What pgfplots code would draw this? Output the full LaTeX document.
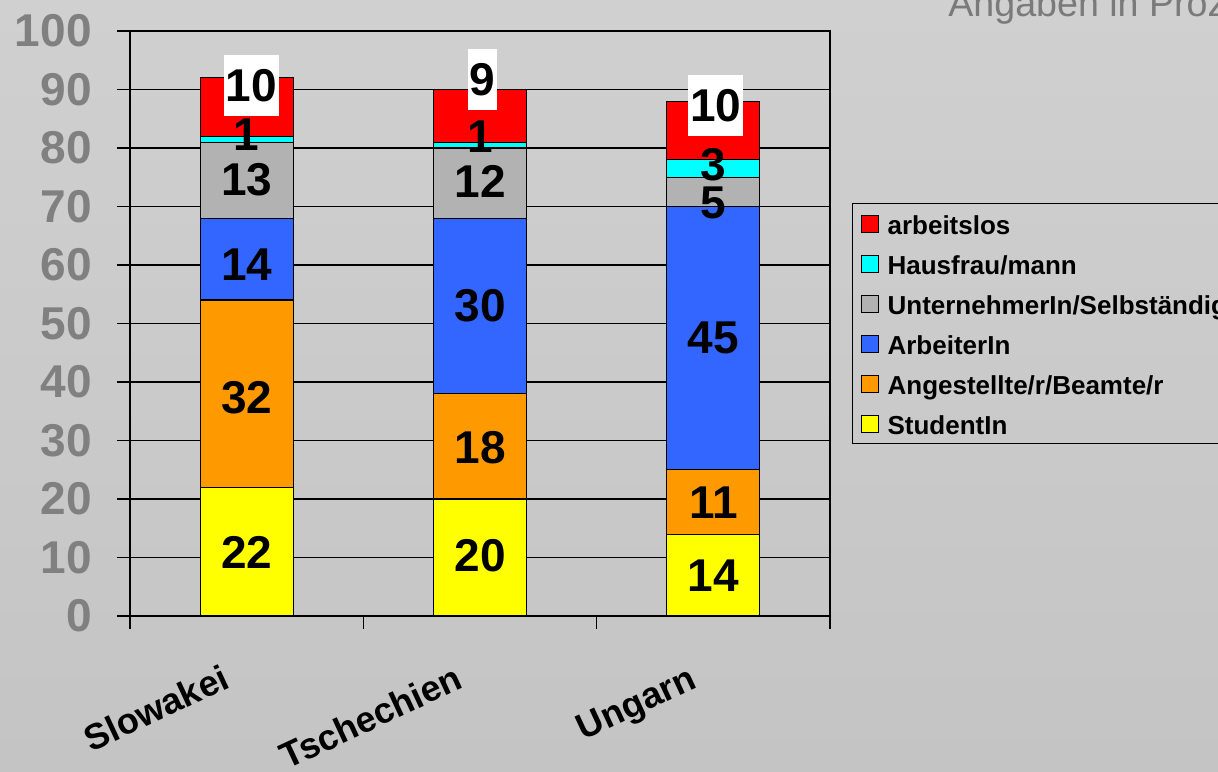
\documentclass[border=0pt]{standalone}
\usepackage{fontspec}
\setmainfont{Liberation Sans}
\usepackage{pgfplots}
\pgfplotsset{compat=1.18}
\definecolor{cRed}{HTML}{FF0000}
\definecolor{cCyan}{HTML}{00FFFF}
\definecolor{cGray}{HTML}{B2B2B2}
\definecolor{cBlue}{HTML}{3366FF}
\definecolor{cOrange}{HTML}{FF9900}
\definecolor{cYellow}{HTML}{FFFF00}
\definecolor{tickgray}{HTML}{808080}
\definecolor{titlegray}{HTML}{7A7A7A}
\definecolor{bgtop}{HTML}{D0D0D0}
\definecolor{bgmid}{HTML}{FAFAFA}
\definecolor{bgbot}{HTML}{C4C4C4}
\tikzset{
  lab/.style={font=\bfseries\fontsize{23}{23}\selectfont, text=black, inner sep=0pt},
  labw/.style={font=\bfseries\fontsize{23}{23}\selectfont, text=black, fill=white, inner xsep=1pt, inner ysep=0pt, minimum height=30.5pt},
}
\pgfplotsset{
  samegeom/.style={at={(65pt,77.5pt)}, anchor=south west,
    scale only axis, width=350pt, height=292.5pt,
    xmin=-0.5, xmax=2.5, ymin=0, ymax=100},
}
\begin{document}
\begin{tikzpicture}
\clip (0,0) rectangle (609pt,385.5pt);
\shade[top color=bgtop, middle color=bgmid, bottom color=bgbot] (0,0) rectangle (609pt,385.5pt);
\node[anchor=base west, text=titlegray, font=\fontsize{18.8}{20}\selectfont, inner sep=0pt] at (474pt,377pt) {Angaben in Prozent};
\begin{axis}[
  samegeom,
  ybar stacked, bar width=46.5pt,
  ytick={0,10,...,100},
  xtick={-0.5,0.5,1.5,2.5}, xticklabels={,,,},
  extra x ticks={0,1,2},
  extra x tick labels={Slowakei,Tschechien,Ungarn},
  extra x tick style={grid=none, major tick length=0pt,
    xticklabel style={xshift=-7.5pt, yshift=-35.5pt, rotate=25, anchor=base east, inner sep=0pt,
      font=\bfseries\fontsize{18}{18}\selectfont, text=black}},
  tick pos=left, tick align=outside,
  major tick length=6.5pt,
  tick style={black, line width=0.7pt},
  axis line style={black, line width=0.7pt},
  ymajorgrids, major grid style={black, line width=0.7pt},
  /pgf/number format/assume math mode=true,
  yticklabel style={font=\bfseries\fontsize{23}{23}\selectfont, text=tickgray, inner sep=0pt, xshift=-12.5pt},
  every axis plot/.append style={draw=black, line width=0.6pt},
  reverse legend,
  legend image code/.code={\draw[#1,draw=black,line width=0.5pt] (0pt,-4.25pt) rectangle (8.5pt,4.25pt);},
  legend style={at={(rel axis cs:1.0314,0.706)}, anchor=north west, draw=black, line width=0.6pt, fill=none,
    font=\bfseries\fontsize{13}{15}\selectfont, inner xsep=4pt, inner ysep=0pt, row sep=0pt,
    nodes={inner ysep=3pt, text height=12.5pt, text depth=1.5pt},
    /tikz/every odd column/.append style={column sep=2.5pt}},
  legend cell align=left,
]
\addplot[fill=cYellow] coordinates {(0,22) (1,20) (2,14)};
\addlegendentry{StudentIn}
\addplot[fill=cOrange] coordinates {(0,32) (1,18) (2,11)};
\addlegendentry{Angestellte/r/Beamte/r}
\addplot[fill=cBlue] coordinates {(0,14) (1,30) (2,45)};
\addlegendentry{ArbeiterIn}
\addplot[fill=cGray] coordinates {(0,13) (1,12) (2,5)};
\addlegendentry{UnternehmerIn/Selbständig}
\addplot[fill=cCyan] coordinates {(0,1) (1,1) (2,3)};
\addlegendentry{Hausfrau/mann}
\addplot[fill=cRed] coordinates {(0,10) (1,9) (2,10)};
\addlegendentry{arbeitslos}
\end{axis}
% overlay axis for the data labels
\begin{axis}[samegeom, hide axis, clip=false]
\node[lab] at (axis cs:0,10.9) {22};
\node[lab] at (axis cs:0,37.4) {32};
\node[lab] at (axis cs:0,60.1) {14};
\node[lab] at (axis cs:0,74.5) {13};
\node[lab] at (axis cs:0,82.2) {1};
\node[labw] at (axis cs:0.02,90.7) {10};
\node[lab] at (axis cs:1,10.3) {20};
\node[lab] at (axis cs:1,28.8) {18};
\node[lab] at (axis cs:1,53.0) {30};
\node[lab] at (axis cs:1,74.3) {12};
\node[lab] at (axis cs:1,82.0) {1};
\node[labw] at (axis cs:1.01,91.7) {9};
\node[lab] at (axis cs:2,6.9) {14};
\node[lab] at (axis cs:2,19.4) {11};
\node[lab] at (axis cs:2,47.5) {45};
\node[lab] at (axis cs:2,70.6) {5};
\node[lab] at (axis cs:2,77.1) {3};
\node[labw] at (axis cs:2.01,87.2) {10};
\end{axis}
\end{tikzpicture}
\end{document}
